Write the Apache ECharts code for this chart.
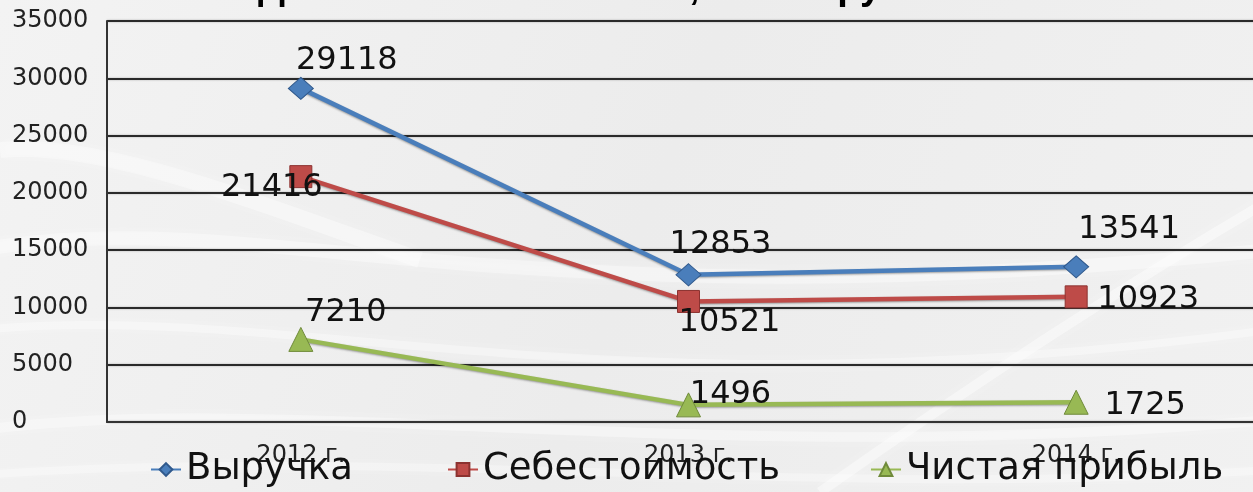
<!DOCTYPE html>
<html><head><meta charset="utf-8">
<script src="https://cdn.jsdelivr.net/npm/echarts@6/dist/echarts.min.js"></script>
<style>html,body{margin:0;padding:0;background:#efefef;overflow:hidden;width:1253px;height:492px}#c{width:1270px;height:492px}</style>
</head><body><div id="c"></div>
<script>
// ---- data ----
const categories = ['2012 г.', '2013 г.', '2014 г.'];
const seriesNames = ['Выручка', 'Себестоимость', 'Чистая прибыль'];
const revenue = [29118, 12853, 13541];
const cost = [21416, 10521, 10923];
const profit = [7210, 1496, 1725];
const yMin = 0, yMax = 35000, yStep = 5000;
const titleText = 'Динамика показателей, в тыс. руб.';

// ---- layout (label offsets from each point, px) ----
const labelOffsets = [
  [[46, -28], [32, -30], [53, -37]],
  [[-29, 11], [41, 21], [72, 3]],
  [[45, -27], [42, -10], [69, 3]]
];
const colors = ['#4A7EBB', '#BE4B48', '#98B954'];
const borders = ['#30598c', '#8c3230', '#6f8a3a'];
const symbols = ['diamond', 'rect', 'triangle'];
const symbolSizes = [[25, 22], 22, [24, 24]];
const FONT = 'DejaVu Sans';

const allData = [revenue, cost, profit];
const series = seriesNames.map((name, i) => ({
  name, type: 'line', z: 3 + i,
  data: allData[i].map((v, j) => ({value: v, label: {offset: labelOffsets[i][j]}})),
  symbol: symbols[i], symbolSize: symbolSizes[i],
  lineStyle: {color: colors[i], width: 4.5, shadowColor: 'rgba(0,0,0,0.35)', shadowBlur: 2, shadowOffsetY: 1},
  itemStyle: {color: colors[i], borderColor: borders[i], borderWidth: 1, opacity: 1},
  label: {show: true, position: 'inside', color: '#111', fontFamily: FONT, fontSize: 32,
          formatter: p => String(p.value)},
  emphasis: {disabled: true}, animation: false
}));

const legendLefts = [150, 447, 870];
const legends = seriesNames.map((n, i) => ({
  data: [n], left: legendLefts[i], top: 451, itemWidth: 30, itemHeight: 16, itemGap: 0,
  padding: 0,
  textStyle: {fontFamily: FONT, fontSize: 37, color: '#111'}
}));

// background streaks
const streaks = [
  {s: [-20, 250], c1: [250, 200], c2: [500, 330], e: [1270, 250], w: 14, o: 0.35},
  {s: [-20, 330], c1: [300, 300], c2: [600, 420], e: [1270, 330], w: 8, o: 0.35},
  {s: [-20, 430], c1: [300, 390], c2: [700, 470], e: [1270, 420], w: 10, o: 0.35},
  {s: [-20, 475], c1: [400, 445], c2: [800, 500], e: [1270, 470], w: 8, o: 0.3},
  {s: [820, 492], c1: [950, 400], c2: [1100, 300], e: [1270, 200], w: 10, o: 0.4},
  {s: [0, 150], c1: [100, 140], c2: [250, 200], e: [420, 260], w: 16, o: 0.35}
];
const graphics = streaks.map(s => ({
  type: 'bezierCurve', z: -10, silent: true,
  shape: {x1: s.s[0], y1: s.s[1], cpx1: s.c1[0], cpy1: s.c1[1], cpx2: s.c2[0], cpy2: s.c2[1], x2: s.e[0], y2: s.e[1]},
  style: {stroke: 'rgba(255,255,255,' + s.o + ')', lineWidth: s.w, fill: null, shadowBlur: 14, shadowColor: 'rgba(255,255,255,0.7)'}
}));

const chart = echarts.init(document.getElementById('c'), null, {renderer: 'canvas'});
chart.setOption({
  animation: false,
  backgroundColor: {type: 'linear', x: 0, y: 0, x2: 1, y2: 1, colorStops: [
    {offset: 0, color: '#f3f3f3'}, {offset: 0.5, color: '#ececec'}, {offset: 1, color: '#f1f1f1'}]},
  graphic: graphics,
  title: {text: titleText, left: 258, top: -30, padding: 0,
          textStyle: {fontFamily: 'Liberation Sans', fontWeight: 'bold', fontSize: 38, color: '#000'}},
  legend: legends,
  grid: {left: 107, right: 0, top: 21, bottom: 70, containLabel: false},
  xAxis: {
    type: 'category', data: categories, boundaryGap: true,
    axisLine: {lineStyle: {color: '#333', width: 2}},
    axisTick: {show: false},
    axisLabel: {fontFamily: FONT, fontSize: 24, color: '#222', margin: 22}
  },
  yAxis: {
    type: 'value', min: yMin, max: yMax, interval: yStep,
    axisLine: {show: true, lineStyle: {color: '#333', width: 2}},
    axisTick: {show: false},
    axisLabel: {fontFamily: FONT, fontSize: 24, color: '#222', align: 'left', margin: 95,
                formatter: v => String(v)},
    splitLine: {lineStyle: {color: '#2a2a2a', width: 2, shadowColor: 'rgba(0,0,0,0.3)', shadowBlur: 2}}
  },
  series
});
</script>
</body></html>
